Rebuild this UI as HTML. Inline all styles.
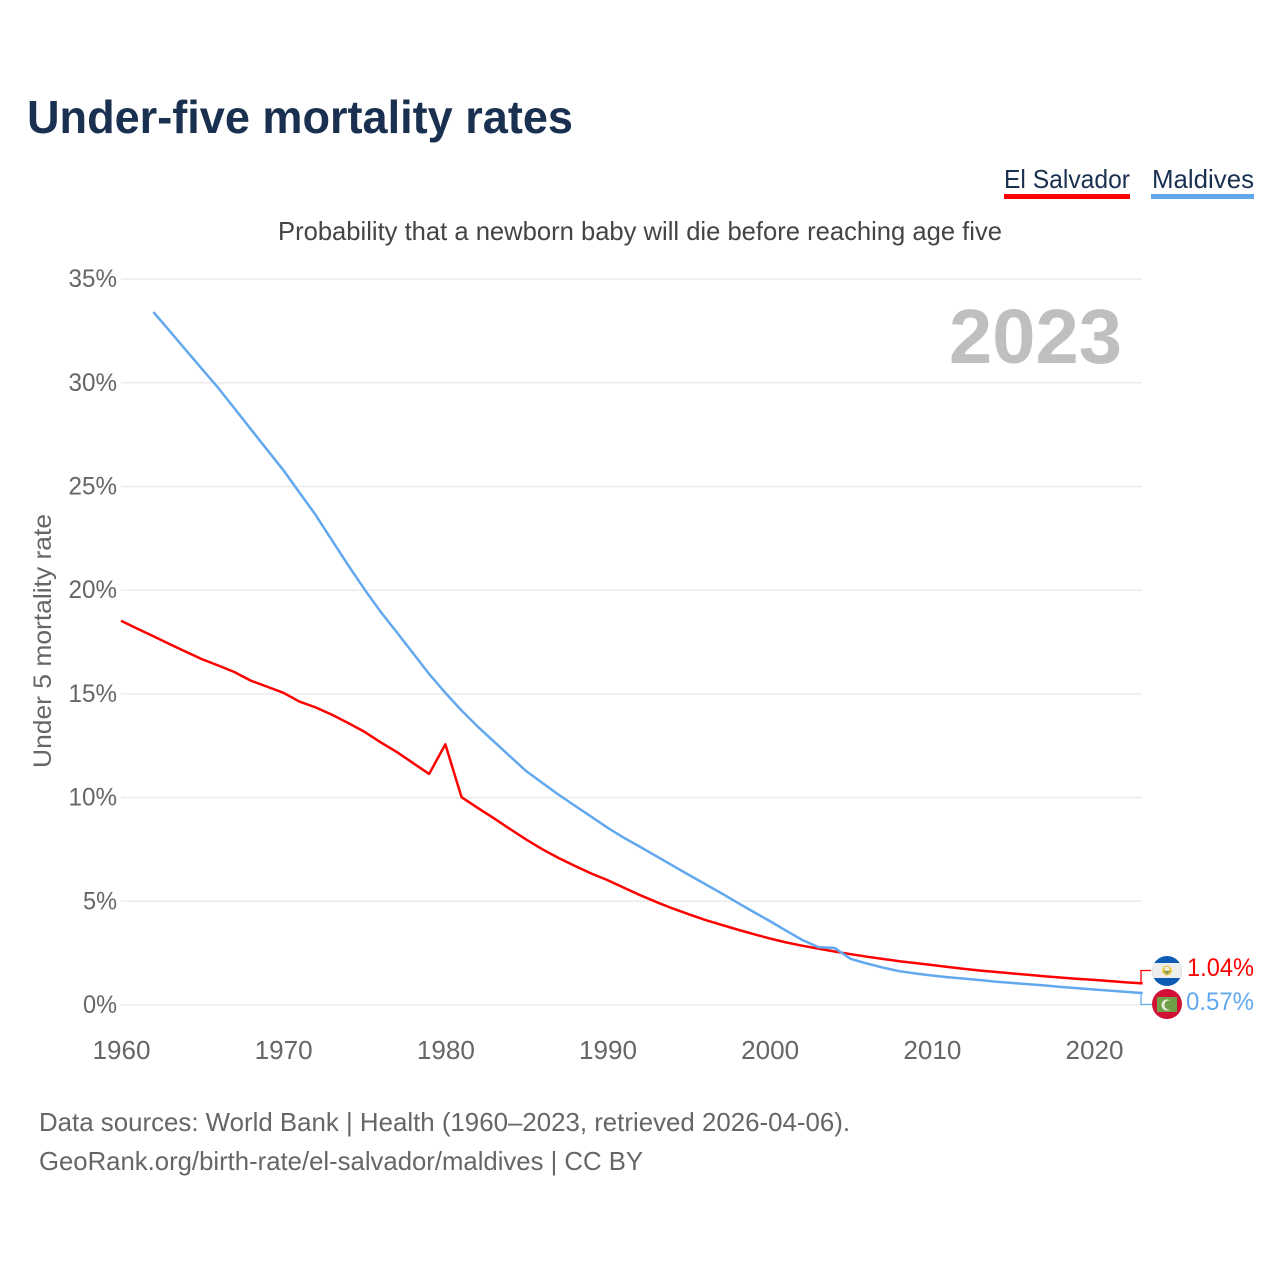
<!DOCTYPE html>
<html lang="en">
<head>
<meta charset="utf-8">
<title>Under-five mortality rates</title>
<style>
html,body{margin:0;padding:0;background:#fff;}
svg{display:block;font-family:"Liberation Sans",Arial,sans-serif;}
</style>
</head>
<body>
<svg id="chart" xmlns="http://www.w3.org/2000/svg" width="1280" height="1280" viewBox="0 0 1280 1280">
  <rect x="0" y="0" width="1280" height="1280" fill="#ffffff"/>
  <text x="27" y="133" font-size="46" font-weight="700" fill="#1a3050" textLength="546" lengthAdjust="spacingAndGlyphs">Under-five mortality rates</text>

  <g>
    <text x="1004" y="188" font-size="26" fill="#1a3050" textLength="126" lengthAdjust="spacingAndGlyphs">El Salvador</text>
    <rect x="1004" y="194" width="126" height="5" fill="#ff0000"/>
  </g>
  <g>
    <text x="1152" y="188" font-size="26" fill="#1a3050" textLength="102" lengthAdjust="spacingAndGlyphs">Maldives</text>
    <rect x="1151" y="194" width="103" height="5" fill="#62a8ee"/>
  </g>

  <text x="278" y="240" font-size="26" fill="#444444" textLength="724" lengthAdjust="spacingAndGlyphs">Probability that a newborn baby will die before reaching age five</text>

  <g id="grid"></g>
  <g id="yticks"></g>
  <g id="xticks"></g>

  <text transform="translate(51,641) rotate(-90)" text-anchor="middle" font-size="25" fill="#666666" textLength="254" lengthAdjust="spacingAndGlyphs">Under 5 mortality rate</text>

  <text x="949" y="363" font-size="77" font-weight="700" fill="#bfbfbf" textLength="173" lengthAdjust="spacingAndGlyphs">2023</text>

  <g id="series"></g>

  <path d="M1141 983 V970.5 H1151" fill="none" stroke="#ff0000" stroke-width="1.3"/>
  <path d="M1141 991.5 V1004.5 H1153" fill="none" stroke="#62a8ee" stroke-width="1.3"/>

  <g>
    <defs>
      <clipPath id="clip-sv"><circle cx="1167" cy="971" r="15"/></clipPath>
      <clipPath id="clip-mv"><circle cx="1167" cy="1004" r="15"/></clipPath>
    </defs>
    <g clip-path="url(#clip-sv)">
      <rect x="1152" y="956" width="30" height="30" fill="#0f5cb4"/>
      <rect x="1152" y="963" width="30" height="15" fill="#eeeeee"/>
      <circle cx="1167" cy="970.5" r="5" fill="#e8c84a"/>
      <path d="M1163.5 971 H1170.5 L1167 974.5 Z" fill="#7f9a5a"/>
      <rect x="1165" y="967" width="4" height="3.5" fill="#eeeeee"/>
    </g>
  </g>
  <g>
    <g clip-path="url(#clip-mv)">
      <rect x="1152" y="989" width="30" height="30" fill="#d20f34"/>
      <rect x="1157" y="997" width="20" height="15" fill="#6fa048"/>
      <circle cx="1167" cy="1005" r="5.5" fill="#e6eddc"/>
      <circle cx="1169" cy="1005" r="4.6" fill="#6fa048"/>
    </g>
  </g>

  <text x="1187" y="976" font-size="25" fill="#ff0000" textLength="67" lengthAdjust="spacingAndGlyphs">1.04%</text>
  <text x="1186" y="1010" font-size="25" fill="#62a8ee" textLength="68" lengthAdjust="spacingAndGlyphs">0.57%</text>

  <text x="39" y="1131" font-size="26" fill="#666666" textLength="811" lengthAdjust="spacingAndGlyphs">Data sources: World Bank | Health (1960–2023, retrieved 2026-04-06).</text>
  <text x="39" y="1170" font-size="26" fill="#666666" textLength="604" lengthAdjust="spacingAndGlyphs">GeoRank.org/birth-rate/el-salvador/maldives | CC BY</text>
</svg>
<script>
var yTickValues = [0, 5, 10, 15, 20, 25, 30, 35];
var xTickValues = [1960, 1970, 1980, 1990, 2000, 2010, 2020];
var salvadorStartYear = 1960;
var salvadorValues = [18.53, 18.15, 17.78, 17.4, 17.03, 16.67, 16.37, 16.05, 15.64, 15.35, 15.06, 14.63, 14.35, 14.0, 13.6, 13.18, 12.67, 12.2, 11.67, 11.14, 12.57, 10.02, 9.5, 9.0, 8.48, 7.97, 7.5, 7.08, 6.7, 6.34, 6.02, 5.66, 5.3, 4.97, 4.66, 4.38, 4.11, 3.87, 3.64, 3.42, 3.21, 3.02, 2.86, 2.72, 2.58, 2.45, 2.33, 2.22, 2.11, 2.02, 1.93, 1.83, 1.74, 1.66, 1.59, 1.52, 1.45, 1.38, 1.32, 1.26, 1.21, 1.15, 1.09, 1.04];
var maldivesStartYear = 1962;
var maldivesValues = [33.41, 32.5, 31.58, 30.66, 29.75, 28.76, 27.77, 26.78, 25.8, 24.71, 23.63, 22.42, 21.22, 20.06, 18.97, 17.98, 16.97, 15.96, 15.05, 14.2, 13.42, 12.7, 11.98, 11.27, 10.7, 10.13, 9.6, 9.08, 8.55, 8.07, 7.63, 7.18, 6.73, 6.28, 5.84, 5.4, 4.94, 4.49, 4.05, 3.59, 3.14, 2.79, 2.75, 2.22, 2.0, 1.8, 1.63, 1.52, 1.42, 1.34, 1.27, 1.2, 1.12, 1.06, 1.0, 0.94, 0.87, 0.81, 0.75, 0.69, 0.63, 0.57];

var SVG_NS = 'http://www.w3.org/2000/svg';
function xScale(year) { return 121 + (year - 1960) * 16.217; }
function yScale(value) { return 1005 - value * 20.74; }
function linePath(startYear, values) {
  return values.map(function (v, i) {
    return (i ? 'L' : 'M') + xScale(startYear + i).toFixed(2) + ' ' + yScale(v).toFixed(2);
  }).join(' ');
}

var grid = document.getElementById('grid');
var yticks = document.getElementById('yticks');
yTickValues.forEach(function (v) {
  var line = document.createElementNS(SVG_NS, 'line');
  
  
  line.setAttribute('x1', 121);
  line.setAttribute('x2', 1142);
  line.setAttribute('y1', yScale(v));
  line.setAttribute('y2', yScale(v));
  line.setAttribute('stroke', '#ebebeb');
  line.setAttribute('stroke-width', '1.5');
  grid.appendChild(line);
  var label = document.createElementNS(SVG_NS, 'text');
  
  
  label.setAttribute('x', 117);
  label.setAttribute('y', yScale(v) + 8);
  label.setAttribute('text-anchor', 'end');
  label.setAttribute('font-size', '25');
  label.setAttribute('fill', '#666666');
  label.setAttribute('textLength', String(v).length * 14.5 + 19.5);
  label.setAttribute('lengthAdjust', 'spacingAndGlyphs');
  label.textContent = v + '%';
  yticks.appendChild(label);
});

var xticks = document.getElementById('xticks');
xTickValues.forEach(function (year) {
  var label = document.createElementNS(SVG_NS, 'text');
  
  
  label.setAttribute('x', xScale(year) + 0.5);
  label.setAttribute('y', 1059);
  label.setAttribute('text-anchor', 'middle');
  label.setAttribute('font-size', '25.5');
  label.setAttribute('fill', '#666666');
  label.setAttribute('textLength', '58');
  label.setAttribute('lengthAdjust', 'spacingAndGlyphs');
  label.textContent = year;
  xticks.appendChild(label);
});

var series = document.getElementById('series');
var salvadorLine = document.createElementNS(SVG_NS, 'path');


salvadorLine.setAttribute('d', linePath(salvadorStartYear, salvadorValues));
salvadorLine.setAttribute('fill', 'none');
salvadorLine.setAttribute('stroke', '#ff0000');
salvadorLine.setAttribute('stroke-width', '2.5');
salvadorLine.setAttribute('stroke-linejoin', 'round');
series.appendChild(salvadorLine);

var maldivesLine = document.createElementNS(SVG_NS, 'path');


maldivesLine.setAttribute('d', linePath(maldivesStartYear, maldivesValues));
maldivesLine.setAttribute('fill', 'none');
maldivesLine.setAttribute('stroke', '#62a8ee');
maldivesLine.setAttribute('stroke-width', '2.5');
maldivesLine.setAttribute('stroke-linejoin', 'round');
series.appendChild(maldivesLine);
</script>
</body>
</html>
